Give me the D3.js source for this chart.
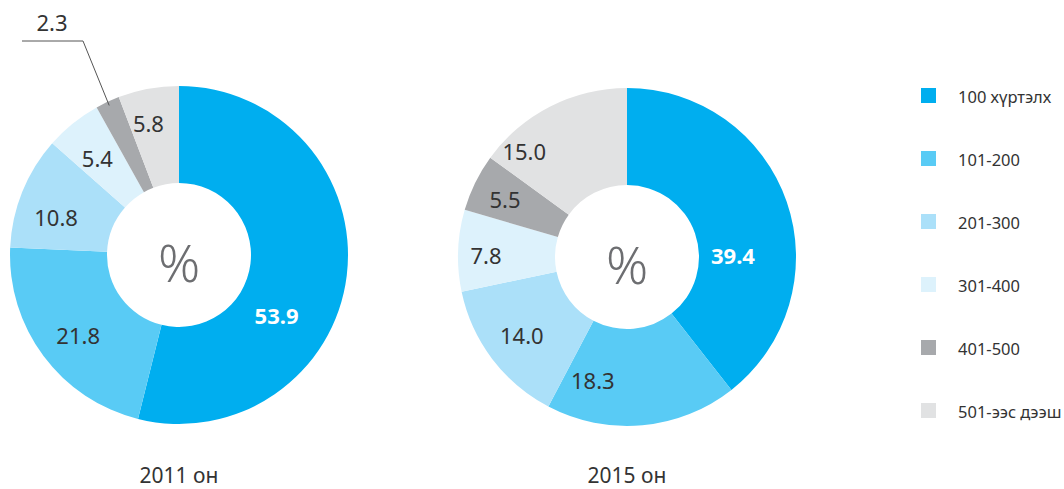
<!DOCTYPE html>
<html><head><meta charset="utf-8">
<script src="https://cdn.jsdelivr.net/npm/d3@7"></script>
<style>body{margin:0;background:#fff}svg{display:block}</style>
</head><body>
<script>
const categories = ["100 хүртэлх","101-200","201-300","301-400","401-500","501-ээс дээш"];
const values2011 = [53.9,21.8,10.8,5.4,2.3,5.8];
const values2015 = [39.4,18.3,14.0,7.8,5.5,15.0];
const years = ["2011 он","2015 он"];
const colors = ["#00aeef","#59cbf5","#abe0f9","#ddf2fc","#a7a9ac","#e1e2e3"];

// label layout (angle deg clockwise from top, radius px) - presentation only
const labelLayout2011 = [[121.6,114.5],[231.4,129],[287.2,128.7],[320,127],null,[347,136]];
const labelLayout2015 = [[89,106],[195.5,128],[233.4,131],[271,141],[295.4,135],[316,148]];

const W=1064,H=489;
const svg=d3.select("body").append("svg").attr("width",W).attr("height",H);
const font="'Noto Sans', 'Open Sans', sans-serif";
const textCol="#333";

const outerR=169, innerR=72;
const pie=d3.pie().sort(null).value(d=>d);
const arc=d3.arc().innerRadius(innerR).outerRadius(outerR);

function donut(vals, cx, cy, layout, title){
  const g=svg.append("g").attr("transform",`translate(${cx},${cy})`);
  const arcs=pie(vals);
  g.selectAll("path").data(arcs).join("path")
    .attr("d",arc).attr("fill",(d,i)=>colors[i]);
  arcs.forEach((d,i)=>{
    const L=layout[i];
    if(!L) return;
    const a=L[0]*Math.PI/180, r=L[1];
    g.append("text").attr("x",r*Math.sin(a)).attr("y",-r*Math.cos(a))
      .attr("text-anchor","middle").attr("dominant-baseline","central")
      .attr("font-family",font).attr("font-size",22)
      .attr("font-weight",i===0?"bold":"normal")
      .attr("fill",i===0?"#fff":textCol)
      .text(vals[i].toFixed(1));
  });
  g.append("text").attr("x",0).attr("y",6).attr("text-anchor","middle")
    .attr("dominant-baseline","central").attr("font-family",font)
    .attr("font-size",52).attr("font-weight",300).attr("fill","#6d6e71").text("%");
  svg.append("text").attr("x",cx).attr("y",483).attr("text-anchor","middle")
    .attr("font-family",font).attr("font-size",21).attr("fill",textCol).text(title);
  return {g,arcs};
}

const left=donut(values2011,179,255,labelLayout2011,years[0]);
donut(values2015,627,257,labelLayout2015,years[1]);

// leader for small slice in 2011
{
  const d=left.arcs[4];
  const mid=(d.startAngle+d.endAngle)/2;
  const r=outerR-4;
  const x0=179+r*Math.sin(mid), y0=255-r*Math.cos(mid);
  svg.append("polyline")
    .attr("points",`${x0},${y0} 83,41 22,41`)
    .attr("fill","none").attr("stroke","#555").attr("stroke-width",1);
  svg.append("text").attr("x",52).attr("y",31).attr("text-anchor","middle")
    .attr("font-family",font).attr("font-size",22).attr("fill",textCol)
    .text(values2011[4].toFixed(1));
}

// legend
const lg=svg.append("g");
categories.forEach((c,i)=>{
  const y=96+i*63;
  lg.append("rect").attr("x",921).attr("y",y-8).attr("width",15).attr("height",15).attr("fill",colors[i]);
  lg.append("text").attr("x",958).attr("y",y).attr("dominant-baseline","central")
    .attr("font-family",font).attr("font-size",16.5).attr("fill",textCol).text(c);
});
</script>
</body></html>
